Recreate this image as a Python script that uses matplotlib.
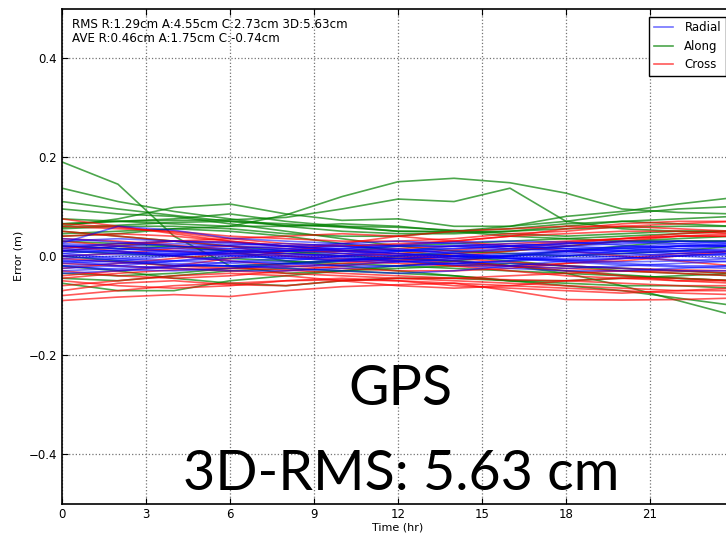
import numpy as np
import matplotlib.pyplot as plt

# orbit error per satellite, sampled every 2 hours (m)
hours = [0, 2, 4, 6, 8, 10, 12, 14, 16, 18, 20, 22, 24]

radial = [
    [0.026, 0.060, 0.052, 0.036, 0.030, 0.025, 0.020, 0.020, 0.020, 0.015, 0.010, 0.010, 0.010],
    [0.020, 0.015, 0.010, 0.005, 0.000, -0.005, -0.010, -0.015, -0.020, -0.025, -0.020, -0.015, -0.010],
    [-0.020, -0.015, -0.010, -0.005, 0.000, 0.005, 0.010, 0.015, 0.020, 0.025, 0.030, 0.030, 0.025],
    [0.010, 0.020, 0.025, 0.020, 0.015, 0.010, 0.005, 0.000, 0.000, 0.005, 0.010, 0.015, 0.020],
    [-0.010, -0.020, -0.025, -0.030, -0.030, -0.025, -0.020, -0.015, -0.010, -0.005, 0.000, 0.005, 0.010],
    [0.000, 0.005, 0.010, 0.015, 0.020, 0.025, 0.030, 0.025, 0.020, 0.015, 0.010, 0.005, 0.000],
    [0.015, 0.010, 0.000, -0.010, -0.015, -0.020, -0.020, -0.015, -0.010, 0.000, 0.010, 0.020, 0.025],
    [-0.025, -0.020, -0.010, 0.000, 0.005, 0.000, -0.005, -0.010, -0.015, -0.020, -0.025, -0.030, -0.030],
    [0.005, -0.005, -0.010, -0.015, -0.010, 0.000, 0.010, 0.020, 0.025, 0.020, 0.015, 0.010, 0.005],
    [-0.005, 0.000, 0.005, 0.010, 0.010, 0.005, 0.000, -0.005, -0.005, 0.000, 0.005, 0.010, 0.015],
    [0.025, 0.020, 0.015, 0.010, 0.010, 0.015, 0.020, 0.020, 0.015, 0.010, 0.005, 0.000, -0.005],
    [-0.015, -0.010, 0.000, 0.010, 0.015, 0.020, 0.015, 0.005, -0.005, -0.010, -0.015, -0.020, -0.020],
    [0.012, 0.008, 0.005, 0.000, -0.005, -0.008, -0.005, 0.000, 0.005, 0.010, 0.015, 0.020, 0.020],
    [-0.030, -0.025, -0.020, -0.020, -0.025, -0.030, -0.035, -0.030, -0.020, -0.010, -0.005, 0.000, 0.005],
    [0.030, 0.035, 0.030, 0.025, 0.020, 0.015, 0.010, 0.010, 0.015, 0.020, 0.025, 0.030, 0.030],
    [0.018, 0.025, 0.030, 0.028, 0.020, 0.012, 0.005, 0.000, -0.005, -0.008, -0.005, 0.000, 0.005],
    [-0.008, -0.012, -0.018, -0.020, -0.015, -0.008, 0.000, 0.008, 0.012, 0.015, 0.018, 0.020, 0.020],
    [0.022, 0.015, 0.008, 0.002, -0.004, -0.010, -0.012, -0.008, 0.000, 0.008, 0.015, 0.020, 0.022],
    [-0.020, -0.028, -0.030, -0.025, -0.018, -0.010, -0.005, -0.002, 0.000, 0.002, -0.002, -0.008, -0.012],
    [0.005, 0.012, 0.018, 0.022, 0.025, 0.020, 0.012, 0.005, -0.002, -0.008, -0.012, -0.010, -0.005],
    [0.035, 0.028, 0.020, 0.015, 0.012, 0.010, 0.012, 0.015, 0.020, 0.025, 0.028, 0.025, 0.020],
    [-0.035, -0.030, -0.022, -0.012, -0.005, 0.000, 0.002, 0.000, -0.005, -0.012, -0.018, -0.022, -0.025],
    [0.000, -0.008, -0.015, -0.020, -0.022, -0.018, -0.012, -0.005, 0.002, 0.010, 0.018, 0.025, 0.028],
    [0.010, 0.005, 0.002, 0.005, 0.010, 0.015, 0.022, 0.028, 0.030, 0.028, 0.022, 0.015, 0.010],
    [-0.012, -0.005, 0.002, 0.008, 0.005, -0.002, -0.010, -0.018, -0.025, -0.030, -0.030, -0.025, -0.020],
]

along = [
    [0.190, 0.145, 0.040, -0.020, -0.035, -0.030, -0.020, -0.010, 0.000, 0.010, 0.020, 0.030, 0.030],
    [0.060, 0.075, 0.098, 0.105, 0.085, 0.072, 0.075, 0.060, 0.060, 0.070, 0.085, 0.095, 0.100],
    [0.040, 0.045, 0.055, 0.060, 0.083, 0.120, 0.150, 0.157, 0.148, 0.127, 0.095, 0.088, 0.085],
    [0.065, 0.070, 0.072, 0.073, 0.078, 0.095, 0.115, 0.110, 0.137, 0.070, 0.055, 0.050, 0.050],
    [0.137, 0.110, 0.090, 0.075, 0.060, 0.050, 0.045, 0.045, 0.050, 0.060, 0.070, 0.075, 0.080],
    [0.110, 0.095, 0.082, 0.070, 0.062, 0.060, 0.058, 0.052, 0.045, 0.040, 0.045, 0.050, 0.050],
    [0.095, 0.085, 0.080, 0.065, 0.050, 0.035, 0.020, 0.010, 0.005, 0.000, 0.005, 0.010, 0.020],
    [0.055, 0.060, 0.060, 0.055, 0.045, 0.040, 0.040, 0.050, 0.060, 0.080, 0.090, 0.105, 0.118],
    [0.050, 0.040, 0.030, 0.020, 0.010, 0.000, -0.005, -0.010, -0.020, -0.035, -0.060, -0.090, -0.120],
    [0.020, 0.015, 0.020, 0.010, -0.010, -0.020, -0.030, -0.040, -0.050, -0.060, -0.070, -0.085, -0.100],
    [-0.055, -0.070, -0.070, -0.050, -0.040, -0.030, -0.025, -0.020, -0.015, -0.020, -0.030, -0.035, -0.040],
    [-0.045, -0.050, -0.040, -0.030, -0.025, -0.030, -0.035, -0.040, -0.050, -0.055, -0.060, -0.060, -0.065],
    [0.065, 0.070, 0.075, 0.085, 0.070, 0.060, 0.050, 0.050, 0.055, 0.065, 0.070, 0.065, 0.060],
    [0.030, 0.025, 0.020, 0.010, 0.005, 0.010, 0.020, 0.025, 0.030, 0.035, 0.040, 0.045, 0.050],
    [-0.020, -0.030, -0.045, -0.055, -0.060, -0.050, -0.045, -0.045, -0.050, -0.050, -0.045, -0.040, -0.035],
    [0.045, 0.050, 0.055, 0.050, 0.040, 0.025, 0.010, 0.000, -0.010, -0.020, -0.025, -0.030, -0.035],
    [0.000, -0.010, -0.020, -0.020, -0.015, -0.010, 0.000, 0.005, 0.010, 0.020, 0.030, 0.035, 0.040],
    [0.075, 0.070, 0.065, 0.060, 0.060, 0.065, 0.060, 0.050, 0.040, 0.035, 0.030, 0.030, 0.030],
    [0.058, 0.062, 0.068, 0.070, 0.065, 0.058, 0.050, 0.048, 0.050, 0.055, 0.058, 0.060, 0.060],
    [-0.035, -0.040, -0.035, -0.025, -0.015, -0.008, -0.005, -0.010, -0.020, -0.030, -0.038, -0.045, -0.050],
    [0.010, 0.005, 0.000, -0.005, -0.010, -0.015, -0.020, -0.025, -0.030, -0.035, -0.040, -0.045, -0.050],
]

cross = [
    [-0.090, -0.083, -0.078, -0.082, -0.070, -0.062, -0.058, -0.055, -0.070, -0.088, -0.089, -0.088, -0.085],
    [-0.070, -0.055, -0.050, -0.058, -0.060, -0.050, -0.045, -0.050, -0.055, -0.060, -0.065, -0.070, -0.070],
    [0.075, 0.060, 0.045, 0.030, 0.020, 0.010, 0.000, -0.010, -0.020, -0.030, -0.040, -0.050, -0.055],
    [0.060, 0.055, 0.050, 0.040, 0.035, 0.030, 0.030, 0.035, 0.045, 0.050, 0.060, 0.065, 0.070],
    [-0.040, -0.030, -0.020, -0.005, 0.010, 0.025, 0.040, 0.050, 0.055, 0.060, 0.060, 0.055, 0.050],
    [0.030, 0.020, 0.010, 0.005, 0.000, -0.005, -0.010, -0.020, -0.030, -0.040, -0.045, -0.050, -0.050],
    [-0.030, -0.040, -0.045, -0.040, -0.030, -0.020, -0.010, 0.000, 0.010, 0.020, 0.030, 0.040, 0.045],
    [0.010, 0.020, 0.030, 0.035, 0.040, 0.045, 0.040, 0.030, 0.020, 0.010, 0.000, -0.010, -0.020],
    [-0.050, -0.060, -0.065, -0.060, -0.050, -0.045, -0.050, -0.060, -0.065, -0.070, -0.075, -0.070, -0.065],
    [0.040, 0.045, 0.040, 0.030, 0.020, 0.020, 0.025, 0.030, 0.040, 0.045, 0.050, 0.050, 0.045],
    [-0.015, -0.020, -0.025, -0.030, -0.035, -0.040, -0.045, -0.045, -0.040, -0.035, -0.030, -0.030, -0.035],
    [0.000, 0.005, 0.015, 0.020, 0.015, 0.005, -0.005, -0.015, -0.020, -0.025, -0.030, -0.035, -0.040],
    [-0.025, -0.015, -0.005, 0.005, 0.010, 0.010, 0.015, 0.020, 0.025, 0.030, 0.035, 0.040, 0.040],
    [0.020, 0.010, 0.000, -0.010, -0.020, -0.025, -0.030, -0.030, -0.025, -0.015, -0.005, 0.005, 0.010],
    [-0.060, -0.050, -0.040, -0.035, -0.040, -0.050, -0.060, -0.065, -0.060, -0.050, -0.045, -0.045, -0.050],
    [0.050, 0.040, 0.030, 0.020, 0.000, -0.010, -0.015, -0.020, -0.020, -0.015, -0.010, 0.000, 0.010],
    [0.065, 0.058, 0.048, 0.035, 0.025, 0.020, 0.022, 0.030, 0.040, 0.055, 0.065, 0.070, 0.070],
    [-0.080, -0.070, -0.060, -0.055, -0.050, -0.048, -0.050, -0.055, -0.060, -0.065, -0.070, -0.075, -0.078],
    [0.035, 0.030, 0.022, 0.012, 0.005, 0.000, 0.005, 0.012, 0.020, 0.028, 0.035, 0.040, 0.040],
    [-0.045, -0.035, -0.028, -0.025, -0.028, -0.035, -0.040, -0.045, -0.048, -0.050, -0.055, -0.060, -0.060],
    [0.015, 0.025, 0.030, 0.028, 0.020, 0.012, 0.005, -0.005, -0.012, -0.020, -0.025, -0.028, -0.030],
    [-0.005, -0.012, -0.020, -0.025, -0.022, -0.015, -0.005, 0.005, 0.015, 0.025, 0.035, 0.045, 0.050],
]

stats_text = 'RMS R:1.29cm A:4.55cm C:2.73cm 3D:5.63cm\nAVE R:0.46cm A:1.75cm C:-0.74cm'

plt.rcParams['font.family'] = 'DejaVu Sans'
plt.rcParams['font.size'] = 8.5
plt.rcParams['xtick.direction'] = 'in'
plt.rcParams['ytick.direction'] = 'in'
plt.rcParams['xtick.top'] = True
plt.rcParams['ytick.right'] = True
plt.rcParams['xtick.major.size'] = 4
plt.rcParams['ytick.major.size'] = 4

fig = plt.figure(figsize=(7.26, 5.36), dpi=100)
# axes run past the right edge of the figure
ax = fig.add_axes([62 / 726, 32.5 / 536, 672 / 726, 495 / 536])

for i, s in enumerate(along):
    ax.plot(hours, s, color='green', alpha=0.7, lw=1.2, label='Along' if i == 0 else None)
for i, s in enumerate(cross):
    ax.plot(hours, s, color='red', alpha=0.65, lw=1.2, label='Cross' if i == 0 else None)
for i, s in enumerate(radial):
    ax.plot(hours, s, color='blue', alpha=0.55, lw=1.2, label='Radial' if i == 0 else None)

ax.set_xlim(0, 24)
ax.set_ylim(-0.5, 0.5)
ax.set_xticks(np.arange(0, 22, 3))
ax.set_yticks([-0.4, -0.2, 0.0, 0.2, 0.4])
ax.grid(True, linestyle=':', color='0.45', lw=0.9)
ax.set_xlabel('Time (hr)', fontsize=8, labelpad=1)
ax.set_ylabel('Error (m)', fontsize=8)
for sp in ax.spines.values():
    sp.set_linewidth(1.2)

handles, labels = ax.get_legend_handles_labels()
order = [labels.index(n) for n in ['Radial', 'Along', 'Cross']]
leg = ax.legend([handles[k] for k in order], [labels[k] for k in order],
                loc='upper right', fontsize=8.5, fancybox=False, framealpha=1,
                edgecolor='black', borderpad=0.4, labelspacing=0.45,
                handlelength=1.6, handletextpad=1.0, borderaxespad=0.7)
leg.get_frame().set_linewidth(1.0)

ax.text(0.015, 0.98, stats_text, transform=ax.transAxes, va='top', ha='left',
        fontsize=8.6, linespacing=1.05)

ax.text(12.1, -0.301, 'GPS', ha='center', va='baseline', fontsize=40, family='Lato')
ax.text(12.1, -0.473, '3D-RMS: 5.63 cm', ha='center', va='baseline', fontsize=40, family='Lato')

fig.savefig('out.png', dpi=100)
